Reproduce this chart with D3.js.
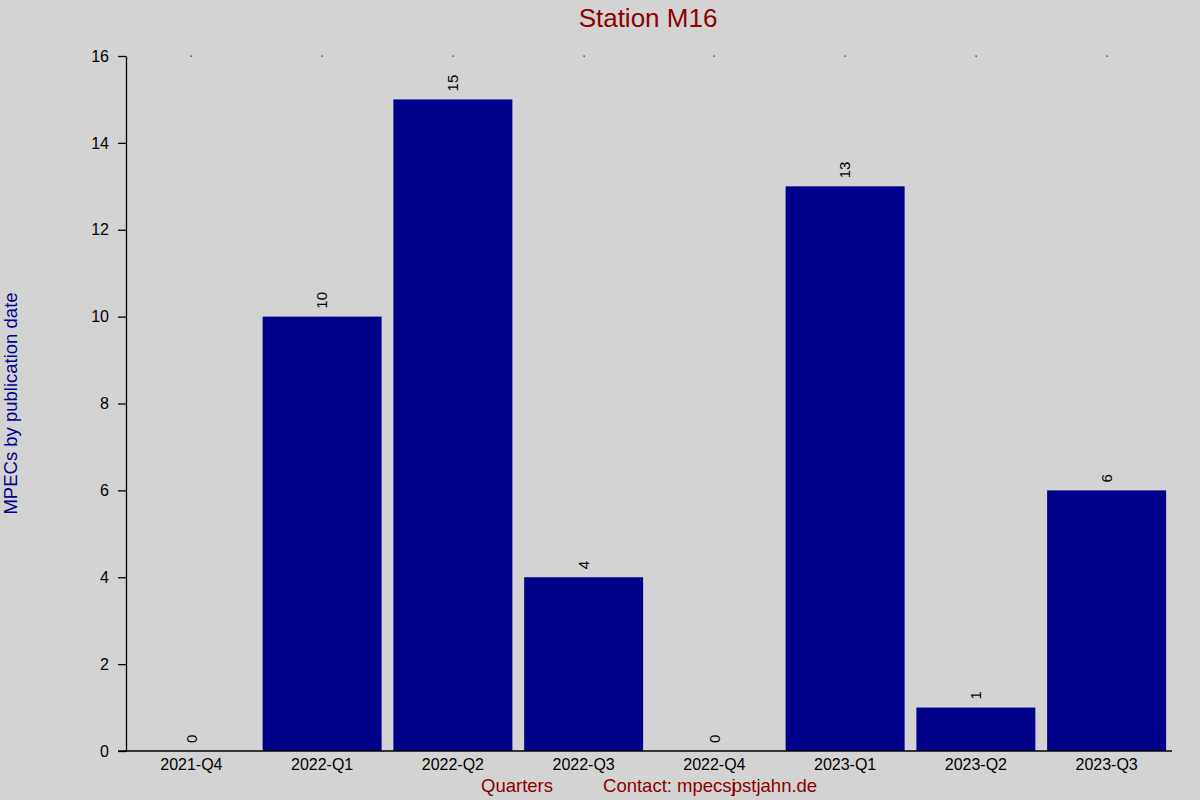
<!DOCTYPE html>
<html>
<head>
<meta charset="utf-8">
<script src="https://cdn.jsdelivr.net/npm/d3@7"></script>
<style>
  body { margin: 0; background: #d3d3d3; }
  text { font-family: "Liberation Sans", Arial, sans-serif; }
</style>
</head>
<body>
<svg id="chart" width="1200" height="800"></svg>
<script>
// quarters and MPEC counts
const quarters = ["2021-Q4", "2022-Q1", "2022-Q2", "2022-Q3", "2022-Q4", "2023-Q1", "2023-Q2", "2023-Q3"];
const counts   = [0, 10, 15, 4, 0, 13, 1, 6];
const yTicks   = [0, 2, 4, 6, 8, 10, 12, 14, 16];

const width = 1200, height = 800;
const margin = {left: 126, right: 28, top: 56, bottom: 49};

const svg = d3.select("#chart");
svg.append("rect").attr("width", width).attr("height", height).attr("fill", "#d3d3d3");

const x = d3.scaleBand()
  .domain(quarters)
  .range([margin.left, width - margin.right])
  .paddingInner(0.09)
  .paddingOuter(0.045);

const y = d3.scaleLinear()
  .domain([0, 16])
  .range([height - margin.bottom, margin.top]);

// bars
svg.append("g").selectAll("rect")
  .data(counts)
  .join("rect")
  .attr("x", (d, i) => x(quarters[i]))
  .attr("y", d => y(d))
  .attr("width", x.bandwidth())
  .attr("height", d => y(0) - y(d))
  .attr("fill", "#00008b");

// value labels, rotated
svg.append("g").selectAll("text")
  .data(counts)
  .join("text")
  .attr("transform", (d, i) => "translate(" + (x(quarters[i]) + x.bandwidth() / 2) + "," + (y(d) - 8) + ") rotate(-90)")
  .attr("dy", "0.35em")
  .attr("font-size", 15)
  .attr("fill", "#000")
  .text(d => d);

// little dots along the top
svg.append("g").selectAll("rect")
  .data(quarters)
  .join("rect")
  .attr("x", d => Math.round(x(d) + x.bandwidth() / 2) - 0.5)
  .attr("y", y(16) - 0.5)
  .attr("width", 1.2)
  .attr("height", 1.2)
  .attr("fill", "#000");

// y axis
const yAxis = svg.append("g")
  .attr("transform", "translate(" + margin.left + ",0)")
  .call(d3.axisLeft(y).tickValues(yTicks).tickSize(8).tickSizeOuter(0).tickPadding(9));
yAxis.select(".domain").attr("stroke", "#000").attr("stroke-width", 1.3);
yAxis.selectAll(".tick line").attr("stroke", "#000").attr("stroke-width", 1.3);
yAxis.selectAll(".tick text").attr("font-size", 16).attr("font-family", "Liberation Sans, Arial, sans-serif").attr("fill", "#000");

// x axis
const xAxis = svg.append("g")
  .attr("transform", "translate(0," + y(0) + ")")
  .call(d3.axisBottom(x).tickSize(0).tickPadding(8));
xAxis.select(".domain").remove();
xAxis.selectAll(".tick text").attr("font-size", 16).attr("font-family", "Liberation Sans, Arial, sans-serif").attr("fill", "#000");
svg.append("line")
  .attr("x1", margin.left - 8).attr("x2", width - margin.right)
  .attr("y1", y(0)).attr("y2", y(0))
  .attr("stroke", "#000").attr("stroke-width", 1.3);

// titles
svg.append("text")
  .attr("x", 648).attr("y", 27)
  .attr("text-anchor", "middle")
  .attr("font-size", 26)
  .attr("fill", "#8b0000")
  .text("Station M16");

svg.append("text")
  .attr("transform", "translate(17," + ((margin.top + height - margin.bottom) / 2) + ") rotate(-90)")
  .attr("text-anchor", "middle")
  .attr("font-size", 18.5)
  .attr("fill", "#00008b")
  .text("MPECs by publication date");

svg.append("text")
  .attr("x", 517).attr("y", 792)
  .attr("text-anchor", "middle")
  .attr("font-size", 18.5)
  .attr("fill", "#8b0000")
  .text("Quarters");

// contact line: the j and p are drawn on top of each other as in the original
const contactText = "Contact: mpecsjpstjahn.de";
const jAt = contactText.indexOf("jp") + 1;
svg.append("text")
  .attr("x", 603).attr("y", 792)
  .attr("font-size", 18.5)
  .attr("fill", "#8b0000")
  .attr("dx", contactText.split("").map((c, i) => i === jAt ? -4 : 0).join(" "))
  .text(contactText);
</script>
</body>
</html>
